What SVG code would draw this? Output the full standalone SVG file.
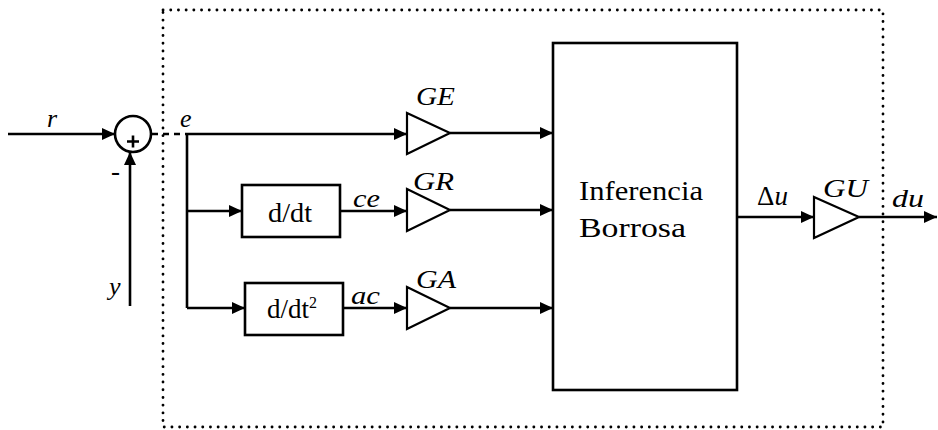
<svg xmlns="http://www.w3.org/2000/svg" width="938" height="430" viewBox="0 0 938 430">
<defs>
<marker id="ah" markerUnits="userSpaceOnUse" markerWidth="14" markerHeight="12" refX="13" refY="6" orient="auto">
<path d="M0,0 L13,6 L0,12 z" fill="#000"/>
</marker>
<style>
.ln{stroke:#000;stroke-width:2.6;fill:none}
.ar{stroke:#000;stroke-width:2.6;fill:none;marker-end:url(#ah)}
.blk{stroke:#000;stroke-width:2.6;fill:#fff}
.tri{stroke:#000;stroke-width:2.2;fill:#fff;stroke-linejoin:miter}
text{font-family:'Liberation Serif','DejaVu Serif',serif;fill:#000}
.it{font-style:italic;font-size:26px}
.rm{font-style:normal;font-size:27px}
.dot{stroke:#000;stroke-width:2.8;fill:none;stroke-dasharray:0.1 7.6;stroke-linecap:round}
</style>
</defs>
<rect width="938" height="430" fill="#fff"/>
<rect class="dot" x="163" y="10" width="720" height="417"/>
<g id="connectors">
<path class="ar" d="M8,134 H115"/>
<path class="ar" d="M130,306 V152"/>
<path class="ln" d="M152,134 H187" stroke-dasharray="6 5"/>
<path class="ln" d="M187,134 V308"/>
<path class="ar" d="M187,134 H407"/>
<path class="ar" d="M187,211 H242"/>
<path class="ar" d="M187,308 H245"/>
<path class="ar" d="M340,211 H407"/>
<path class="ar" d="M343,308 H407"/>
<path class="ar" d="M450,133 H553"/>
<path class="ar" d="M450,210 H553"/>
<path class="ar" d="M450,308 H553"/>
<path class="ar" d="M737,217 H814"/>
<path class="ar" d="M859,217 H937"/>
</g>
<g id="sum">
<circle cx="133" cy="134" r="18" fill="#fff" stroke="#000" stroke-width="2.6"/>
<path class="ln" d="M127,141.5 H139 M133,135.5 V147.5" stroke-width="2"/>
<text class="it" x="47" y="127">r</text>
<text class="rm" x="111" y="180" font-size="22">-</text>
<text class="it" x="109" y="295">y</text>
<text class="it" x="180" y="127">e</text>
</g>
<g id="ddt">
<rect class="blk" x="242" y="185" width="98" height="52"/>
<text class="rm" x="268" y="222" textLength="44" lengthAdjust="spacingAndGlyphs">d/dt</text>
</g>
<g id="ddt2">
<rect class="blk" x="245" y="283" width="98" height="52"/>
<text class="rm" x="267" y="318">d/dt<tspan font-size="16" dy="-10">2</tspan></text>
</g>
<text class="it" x="353" y="207" textLength="27" lengthAdjust="spacingAndGlyphs">ce</text>
<text class="it" x="351" y="304" textLength="29" lengthAdjust="spacingAndGlyphs">ac</text>
<g id="GE">
<path class="tri" d="M407,113 L450,133 L407,154 z"/>
<text class="it" x="416" y="105" textLength="39" lengthAdjust="spacingAndGlyphs">GE</text>
</g>
<g id="GR">
<path class="tri" d="M407,189 L450,210 L407,231 z"/>
<text class="it" x="413" y="190" textLength="41" lengthAdjust="spacingAndGlyphs">GR</text>
</g>
<g id="GA">
<path class="tri" d="M407,287 L450,308 L407,329 z"/>
<text class="it" x="416" y="288" textLength="40" lengthAdjust="spacingAndGlyphs">GA</text>
</g>
<g id="inferencia">
<rect class="blk" x="553" y="43" width="184" height="347"/>
<text class="rm" x="579" y="200" font-size="28" textLength="124" lengthAdjust="spacingAndGlyphs">Inferencia</text>
<text class="rm" x="579" y="237" font-size="28" textLength="107" lengthAdjust="spacingAndGlyphs">Borrosa</text>
</g>
<text class="rm" x="757" y="205" font-size="26">Δ<tspan font-style="italic">u</tspan></text>
<g id="GU">
<path class="tri" d="M814,197 L859,217 L814,238 z"/>
<text class="it" x="823" y="197" textLength="45" lengthAdjust="spacingAndGlyphs">GU</text>
</g>
<text class="it" x="892" y="207" textLength="32" lengthAdjust="spacingAndGlyphs">du</text>
</svg>
